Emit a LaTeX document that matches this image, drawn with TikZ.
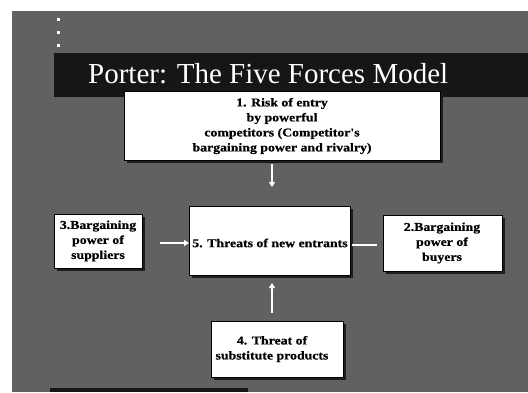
\documentclass[tikz,border=0pt]{standalone}
\usepackage{fontspec}
\setmainfont{Liberation Serif}
\newfontfamily\boxfont[FakeStretch=1.15,FakeBold=0.6]{Liberation Serif Bold}
\usetikzlibrary{arrows.meta}
\definecolor{bggrey}{RGB}{96,97,96}
\definecolor{barblack}{RGB}{22,22,22}
\definecolor{shadowc}{RGB}{30,30,30}
\begin{document}
\begin{tikzpicture}[x=1pt,y=-1pt,
  box/.style={fill=white,draw=black,line width=0.4pt},
  shadow/.style={fill=shadowc},
  lbl/.style={font=\boxfont\fontsize{12}{15}\selectfont,align=center,text=black,inner sep=0pt},
  conn/.style={draw=white,line width=1.6pt},
  arr/.style={conn,-{Triangle[length=5pt,width=6pt]}}]
\useasboundingbox (0,0) rectangle (528,392);
\fill[white] (0,0) rectangle (528,392);
\fill[bggrey] (12,11) rectangle (528,392);
% dots
\foreach \yy in {18,31,44} \fill[white] (57,\yy) rectangle (59.5,\yy+3);
% title bar
\fill[barblack] (54,53) rectangle (528,97);
\node[anchor=base west,text=white,font=\fontsize{29}{33}\selectfont,inner sep=0pt] (title) at (88,83) {Porter: The Five Forces Model};
% bottom bar
\fill[barblack] (50,388) rectangle (248,392);
% shadows
\fill[shadow] (127,94) rectangle (443,163);
\fill[shadow] (192,209) rectangle (353,278);
\fill[shadow] (57,217) rectangle (145,271);
\fill[shadow] (386,218) rectangle (505,274);
\fill[shadow] (214,324) rectangle (346,380);
% boxes
\draw[box] (124,91) rectangle (440,160);
\node[lbl] (b1) at (282,126) {1. Risk of entry\\by powerful\\competitors (Competitor's\\bargaining power and rivalry)};
\coordinate (b1s) at (272,160);
\draw[box] (189,206) rectangle (350,275);
\node[lbl] (b5) at (270,243) {5. Threats of new entrants};
\coordinate (b5n) at (272,206);
\coordinate (b5w) at (189,243);
\coordinate (b5e) at (350,245);
\coordinate (b5s) at (272,275);
\draw[box] (54,214) rectangle (142,268);
\node[lbl] (b3) at (98,241) {3.Bargaining\\power of\\suppliers};
\coordinate (b3e) at (142,243);
\draw[box] (383,215) rectangle (502,271);
\node[lbl] (b2) at (442,243) {2.Bargaining\\power of\\buyers};
\coordinate (b2w) at (383,245);
\draw[box] (211,321) rectangle (343,377);
\node[lbl] (b4) at (272,349) {4. Threat of\\substitute products};
\coordinate (b4n) at (272,321);
% connectors
\draw[arr] ([yshift=-4]b1s) -- ([yshift=19]b5n);
\draw[arr] ([xshift=18]b3e) -- (b5w);
\draw[conn] ([xshift=-6]b2w) -- ([xshift=2]b5e);
\draw[arr] ([yshift=8]b4n) -- ([yshift=-8]b5s);
\end{tikzpicture}
\end{document}
